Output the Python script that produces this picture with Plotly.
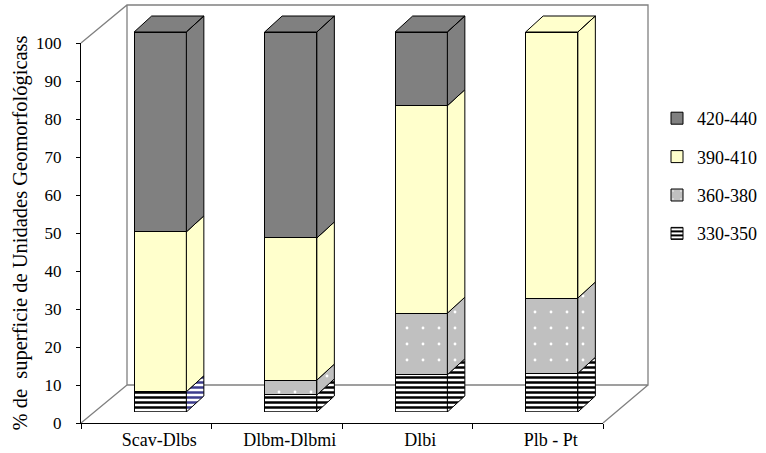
import plotly.graph_objects as go

# ---------------- data ----------------
categories = ["Scav-Dlbs", "Dlbm-Dlbmi", "Dlbi", "Plb - Pt"]
series_names = ["330-350", "360-380", "390-410", "420-440"]
v_330_350 = [5.3, 4.5, 9.8, 10.2]
v_360_380 = [0.0, 3.9, 16.2, 19.8]
v_390_410 = [42.1, 37.4, 54.6, 70.0]
v_420_440 = [52.6, 54.2, 19.4, 0.0]
y_ticks = [0, 10, 20, 30, 40, 50, 60, 70, 80, 90, 100]
y_title = "% de  superficie de Unidades Geomorfológicass"

series_values = [v_330_350, v_360_380, v_390_410, v_420_440]

# ---------------- styles ----------------
FONT = "Liberation Serif, Times New Roman, serif"
styles = {
    "330-350": dict(bg="white", fg="black", shape="-", size=5, solidity=0.5),
    "360-380": dict(bg="#C0C0C0", fg="white", shape=".", size=16, solidity=0.025),
    "390-410": dict(bg="#FFFFCC", fg="#FFFFCC", shape="", size=8, solidity=0.3),
    "420-440": dict(bg="#808080", fg="#808080", shape="", size=8, solidity=0.3),
}
legend_rank = {"420-440": 1, "390-410": 2, "360-380": 3, "330-350": 4}

# ---------------- geometry (pixels) ----------------
W, H = 766, 453
MB = 30
PW, PH = W, H - MB
AX_L, AX_R = 81, 603          # front x axis extent
AX_B, AX_T = 423, 43          # front y axis extent (0 .. 100)
PX_PER_Y = (AX_B - AX_T) / 100.0
PX_PER_X = (AX_R - AX_L) / 4.0
BAR_DX, BAR_DY = 14, 11       # bar front plane offset from axis plane
DEPTH_DX, DEPTH_DY = 17.5, 16 # bar depth
WALL_DX, WALL_DY = 46, 38     # back wall offset
BAR_W = 0.4


def fx(p):
    return p / PW


def fy(p):
    return (PH - p) / PH


ddx = DEPTH_DX / PX_PER_X
ddy = DEPTH_DY / PX_PER_Y

fig = go.Figure()

# invisible trace so the categorical front axis knows its categories
fig.add_trace(go.Scatter(x=categories, y=[0] * len(categories), mode="markers",
                         marker=dict(size=0.1, opacity=0), showlegend=False,
                         hoverinfo="skip", xaxis="x", yaxis="y"))

xs = list(range(len(categories)))

# front faces (stacked bars)
for name, vals in zip(series_names, series_values):
    st = styles[name]
    pattern = dict(shape=st["shape"], fgcolor=st["fg"], bgcolor=st["bg"],
                   size=st["size"], solidity=st["solidity"], fillmode="replace")
    fig.add_trace(go.Bar(
        x=xs, y=vals, name=name, width=BAR_W,
        marker=dict(color=st["bg"], line=dict(color="black", width=1),
                    pattern=pattern),
        xaxis="x2", yaxis="y2", legendgroup=name, legendrank=legend_rank[name],
        hoverinfo="skip",
    ))

# side and top faces, computed from the data through the bar axes
totals = [sum(s[i] for s in series_values) for i in xs]
side_x = {n: [] for n in series_names}
side_y = {n: [] for n in series_names}
odd_x, odd_y = [], []
for i in xs:
    base = 0.0
    top_series = None
    for name, vals in zip(series_names, series_values):
        v = vals[i]
        if v <= 0:
            continue
        xr = i + BAR_W / 2
        px = [xr, xr + ddx, xr + ddx, xr, xr, None]
        py = [base, base + ddy, base + v + ddy, base + v, base, None]
        if i == 0 and name == "330-350":
            odd_x += px
            odd_y += py
        else:
            side_x[name] += px
            side_y[name] += py
        base += v
        top_series = name
    if top_series is not None:
        xl, xr, T = i - BAR_W / 2, i + BAR_W / 2, totals[i]
        side_x[top_series] += [xl, xl + ddx, xr + ddx, xr, xl, None]
        side_y[top_series] += [T, T + ddy, T + ddy, T, T, None]

for name in series_names:
    if not side_x[name]:
        continue
    st = styles[name]
    fig.add_trace(go.Scatter(
        x=side_x[name], y=side_y[name], mode="lines", fill="toself",
        fillcolor=st["bg"], line=dict(color="black", width=1),
        fillpattern=dict(shape=st["shape"], fgcolor=st["fg"], bgcolor=st["bg"],
                         size=st["size"], solidity=st["solidity"], fillmode="replace"),
        xaxis="x2", yaxis="y2", showlegend=False, hoverinfo="skip",
    ))
if odd_x:
    fig.add_trace(go.Scatter(
        x=odd_x, y=odd_y, mode="lines", fill="toself", fillcolor="white",
        line=dict(color="black", width=1),
        fillpattern=dict(shape="-", fgcolor="#3C3C8C", bgcolor="white",
                         size=5, solidity=0.5, fillmode="replace"),
        xaxis="x2", yaxis="y2", showlegend=False, hoverinfo="skip",
    ))

# walls / floor frame
gray = "#808080"
RX = AX_R + WALL_DX - 1
wall_path = (
    f"M {fx(AX_L)},{fy(AX_T)} L {fx(AX_L + WALL_DX)},{fy(AX_T - WALL_DY)} "
    f"L {fx(RX)},{fy(AX_T - WALL_DY)} L {fx(RX)},{fy(AX_B - WALL_DY)} "
    f"L {fx(AX_L + WALL_DX)},{fy(AX_B - WALL_DY)} L {fx(AX_L + WALL_DX)},{fy(AX_T - WALL_DY)} "
    f"M {fx(AX_L)},{fy(AX_B)} L {fx(AX_L + WALL_DX)},{fy(AX_B - WALL_DY)} "
    f"M {fx(AX_R)},{fy(AX_B)} L {fx(RX)},{fy(AX_B - WALL_DY)}"
)
fig.add_shape(type="path", path=wall_path, xref="paper", yref="paper",
              line=dict(color=gray, width=1.3), layer="below")

fig.update_layout(
    width=W, height=H,
    margin=dict(l=0, r=0, t=0, b=MB),
    paper_bgcolor="white", plot_bgcolor="rgba(0,0,0,0)",
    barmode="stack",
    showlegend=True,
    font=dict(family=FONT, color="black", size=17),
    legend=dict(x=fx(657), y=fy(100), xanchor="left", yanchor="top",
                traceorder="grouped", tracegroupgap=12,
                font=dict(size=18, family=FONT), bgcolor="rgba(0,0,0,0)"),
    xaxis=dict(domain=[fx(AX_L), fx(AX_R)], type="category",
               categoryorder="array", categoryarray=categories,
               range=[-0.5, len(categories) - 0.5], tickson="boundaries",
               ticks="outside", ticklen=5, tickcolor="black",
               ticklabelshift=13,
               showline=True, linecolor="black", linewidth=1,
               showgrid=False, zeroline=False, fixedrange=True,
               tickfont=dict(size=18), anchor="y"),
    yaxis=dict(domain=[0, fy(AX_T)], range=[0, 100], tickvals=y_ticks,
               ticks="outside", ticklen=4, tickcolor="black",
               ticklabelstandoff=11,
               showline=True, linecolor="black", linewidth=1,
               showgrid=False, zeroline=False, fixedrange=True,
               tickfont=dict(size=17), automargin=False,
               title=dict(text=y_title, font=dict(size=20.5), standoff=2),
               anchor="x"),
    xaxis2=dict(domain=[fx(AX_L + BAR_DX), fx(AX_R + BAR_DX)],
                range=[-0.5, len(categories) - 0.5], visible=False,
                anchor="y2", fixedrange=True),
    yaxis2=dict(domain=[fy(AX_B - BAR_DY), 1],
                range=[0, (AX_B - BAR_DY) / PX_PER_Y], visible=False,
                anchor="x2", fixedrange=True),
)

fig.write_html("out.html", config={"displayModeBar": False},
               post_script="document.body.style.margin='0';")
